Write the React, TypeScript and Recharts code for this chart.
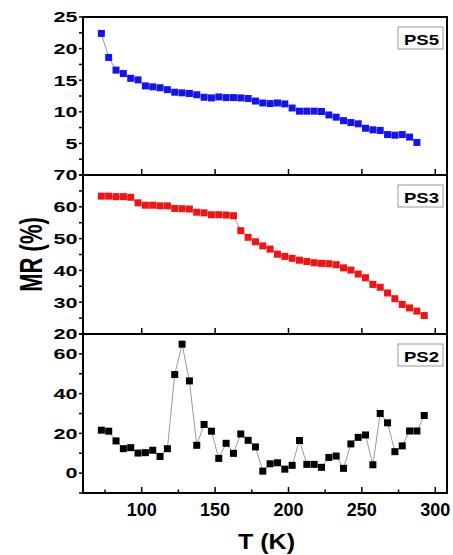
import React from 'react';
import { LineChart, Line, XAxis, YAxis, ReferenceArea } from 'recharts';

const temps = [
  72.5, 77.5, 82.5, 87.5, 92.5, 97.5, 102.5, 107.5, 112.5, 117.5, 122.5, 127.5, 132.5, 137.5, 142.5,
  147.5, 152.5, 157.5, 162.5, 167.5, 172.5, 177.5, 182.5, 187.5, 192.5, 197.5, 202.5, 207.5, 212.5,
  217.5, 222.5, 227.5, 232.5, 237.5, 242.5, 247.5, 252.5, 257.5, 262.5, 267.5, 272.5, 277.5, 282.5,
  287.5, 292.5,
];

const ps5 = [
  22.4, 18.6, 16.6, 16.05, 15.3, 15.05, 14.1, 13.95, 13.8, 13.5, 13.1, 13.0, 12.9, 12.7, 12.3, 12.2,
  12.35, 12.25, 12.25, 12.2, 12.1, 11.7, 11.4, 11.3, 11.4, 11.25, 10.6, 10.1, 10.1, 10.1, 10.05, 9.5,
  9.15, 8.6, 8.3, 8.1, 7.4, 7.15, 7.05, 6.4, 6.3, 6.4, 6.0, 5.15,
];

const ps3 = [
  63.35, 63.35, 63.2, 63.2, 63.0, 61.25, 60.5, 60.5, 60.3, 60.3, 59.5, 59.4, 59.3, 58.3, 58.1, 57.5,
  57.5, 57.4, 57.2, 52.5, 50.4, 49.0, 47.7, 46.7, 45.1, 44.4, 43.8, 43.2, 42.8, 42.4, 42.2, 42.1, 41.8,
  40.8, 40.1, 38.85, 37.7, 35.6, 34.7, 32.9, 31.1, 29.3, 28.2, 27.2, 25.8,
];

const ps2 = [
  21.6, 21.1, 16.2, 12.3, 12.8, 10.1, 10.3, 11.5, 8.4, 12.3, 49.6, 64.9, 46.4, 14.0, 24.5, 21.1, 7.4,
  15.0, 9.95, 19.7, 16.5, 13.2, 1.0, 4.7, 5.2, 2.0, 3.9, 16.4, 4.4, 4.4, 2.9, 7.9, 8.6, 2.4, 14.7, 18.0,
  19.2, 4.2, 30.0, 25.3, 10.8, 13.7, 21.2, 21.2, 29.0,
];

const xMajor = [100, 150, 200, 250, 300];
const xMinor = [75, 125, 175, 225, 275];

const ps5Ticks = [0, 2.5, 5, 7.5, 10, 12.5, 15, 17.5, 20, 22.5, 25];
const ps5Labels = [5, 10, 15, 20, 25];
const ps3Ticks = [20, 25, 30, 35, 40, 45, 50, 55, 60, 65, 70];
const ps3Labels = [20, 30, 40, 50, 60, 70];
const ps2Ticks = [-10, 0, 10, 20, 30, 40, 50, 60, 70];
const ps2Labels = [0, 20, 40, 60];

const W = 453;
const H = 555;
const FONT = '"Liberation Sans", Arial, sans-serif';

function XTick(props: any) {
  const { x, y, payload, showLabel } = props;
  const major = xMajor.includes(payload.value);
  return (
    <g>
      <line x1={x} x2={x} y1={y} y2={y - (major ? 6 : 3.5)} stroke="#000" strokeWidth={1.5} />
      {showLabel && major && (
        <text x={x} y={y + 23} textAnchor="middle" fontSize={18} fontWeight="bold" fontFamily={FONT} fill="#000">
          {payload.value}
        </text>
      )}
    </g>
  );
}

function YTick(props: any) {
  const { x, y, payload, labels } = props;
  const v = payload.value;
  const txt = String(v);
  return (
    <g>
      <line x1={x} x2={x - 4} y1={y} y2={y} stroke="#000" strokeWidth={1.5} />
      {labels.includes(v) && (
        <text
          x={x - 5.5}
          y={y + 5.3}
          textAnchor="end"
          fontSize={15}
          fontWeight="bold"
          fontFamily={FONT}
          fill="#000"
          textLength={12 * txt.length}
          lengthAdjust="spacingAndGlyphs"
        >
          {txt}
        </text>
      )}
    </g>
  );
}

const tagLabel = (text: string) => (props: any) => {
  const vb = props.viewBox;
  const right = vb.x + vb.width;
  return (
    <g>
      <rect x={right - 49} y={vb.y + 10} width={45} height={22} fill="#fff" stroke="#999" strokeWidth={1} />
      <text
        x={right - 25.5}
        y={vb.y + 28}
        textAnchor="middle"
        fontSize={15}
        fontWeight="bold"
        fontFamily={FONT}
        fill="#000"
        textLength={35}
        lengthAdjust="spacingAndGlyphs"
      >
        {text}
      </text>
    </g>
  );
};

const mrLabel = (props: any) => {
  const vb = props.viewBox;
  return (
    <text
      transform={`translate(41.7, ${vb.y + vb.height / 2}) scale(1.45, 1) rotate(-90)`}
      textAnchor="middle"
      fontSize={22}
      fontWeight="bold"
      fontFamily={FONT}
      fill="#000"
    >
      MR (%)
    </text>
  );
};

const tLabel = (props: any) => {
  const vb = props.viewBox;
  return (
    <text
      x={vb.x + vb.width / 2 + 1.5}
      y={vb.y + 55.5}
      textAnchor="middle"
      fontSize={22}
      fontWeight="bold"
      fontFamily={FONT}
      fill="#000"
      textLength={57}
      lengthAdjust="spacingAndGlyphs"
    >
      T (K)
    </text>
  );
};

const square = (color: string) => (p: any) => (
  <rect key={`sq-${p.index}`} x={p.cx - 3.5} y={p.cy - 3.5} width={7} height={7} fill={color} />
);

type PanelProps = {
  name: string;
  values: number[];
  color: string;
  yDomain: [number, number];
  yTicks: number[];
  yLabels: number[];
  top: number;
  bottom: number;
  bottomPanel?: boolean;
  yTitle?: boolean;
};

function Panel({ name, values, color, yDomain, yTicks, yLabels, top, bottom, bottomPanel, yTitle }: PanelProps) {
  const data = values.map((v, i) => ({ t: temps[i], mr: v }));
  return (
    <div style={{ position: 'absolute', left: 0, top: 0 }}>
      <LineChart width={W} height={H} data={data} margin={{ top, right: 6, bottom: H - bottom - 1, left: 0 }}>
        <XAxis
          type="number"
          dataKey="t"
          domain={[60, 308]}
          allowDataOverflow
          ticks={bottomPanel ? [...xMinor, ...xMajor] : xMajor}
          interval={0}
          height={1}
          tickSize={0}
          tickMargin={0}
          axisLine={false}
          tickLine={false}
          tick={(p: any) => <XTick {...p} showLabel={!!bottomPanel} />}
          label={bottomPanel ? tLabel : undefined}
        />
        <YAxis
          type="number"
          domain={yDomain}
          allowDataOverflow
          ticks={yTicks}
          interval={0}
          width={83}
          tickSize={0}
          tickMargin={0}
          axisLine={false}
          tickLine={false}
          tick={(p: any) => <YTick {...p} labels={yLabels} />}
          label={yTitle ? mrLabel : undefined}
        />
        <ReferenceArea
          x1={60}
          x2={308}
          y1={yDomain[0]}
          y2={yDomain[1]}
          fill="none"
          fillOpacity={0}
          stroke="#000"
          strokeWidth={2}
          strokeOpacity={1}
          label={tagLabel(name)}
        />
        <Line
          type="linear"
          dataKey="mr"
          stroke="#9a9a9a"
          strokeWidth={1}
          dot={square(color)}
          activeDot={false}
          isAnimationActive={false}
        />
      </LineChart>
    </div>
  );
}

export default function App() {
  return (
    <div style={{ position: 'absolute', left: 0, top: 0, width: W, height: H, background: '#fff' }}>
      <Panel name="PS5" values={ps5} color="#1414f0" yDomain={[0, 25]} yTicks={ps5Ticks} yLabels={ps5Labels} top={17} bottom={175} />
      <Panel name="PS3" values={ps3} color="#f01414" yDomain={[20, 70]} yTicks={ps3Ticks} yLabels={ps3Labels} top={175} bottom={334} yTitle />
      <Panel name="PS2" values={ps2} color="#000" yDomain={[-10, 70]} yTicks={ps2Ticks} yLabels={ps2Labels} top={334} bottom={493} bottomPanel />
    </div>
  );
}
